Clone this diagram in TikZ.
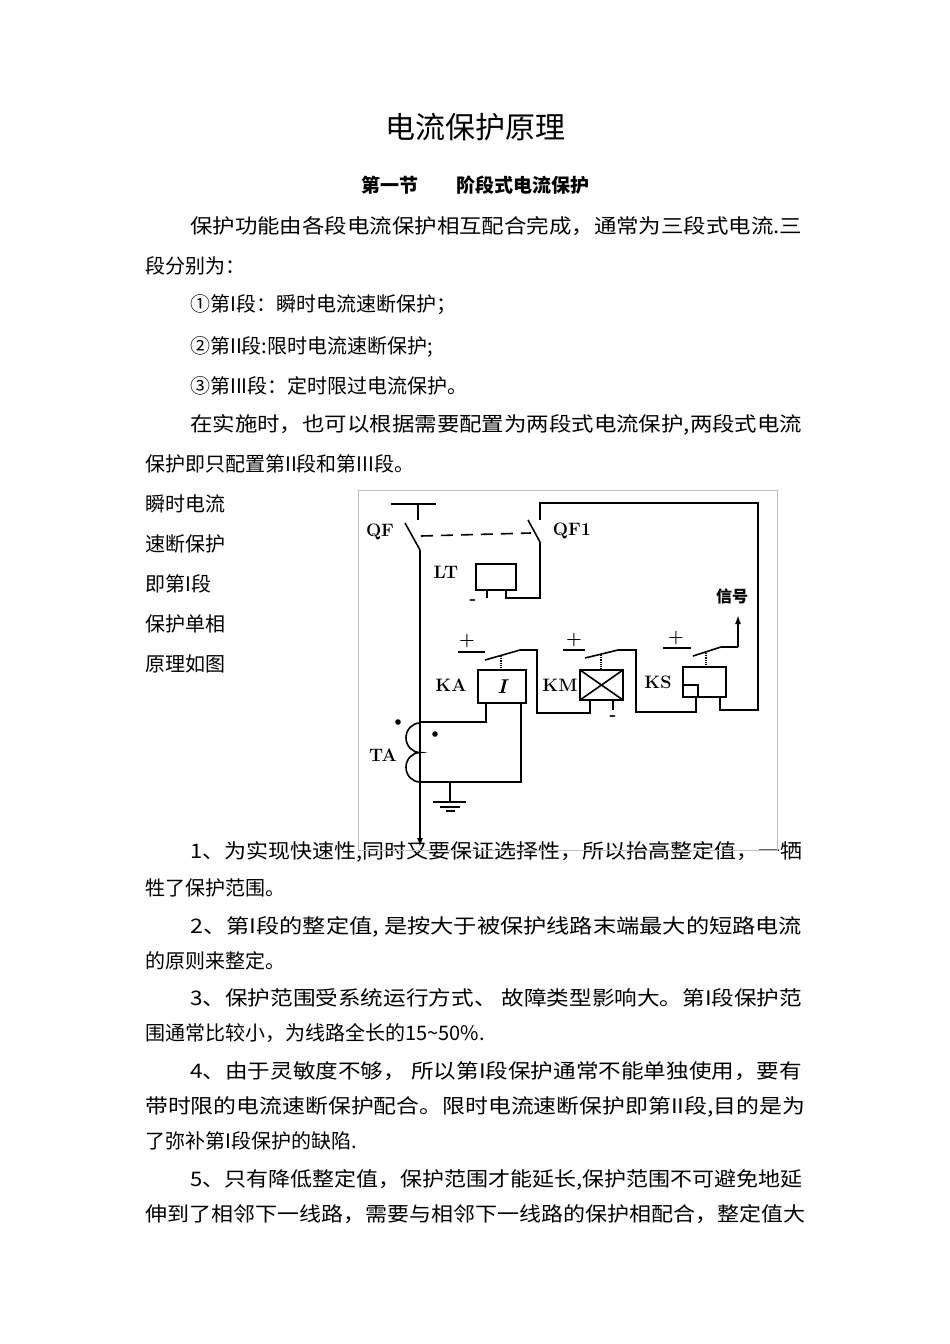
\documentclass[tikz,border=0pt]{standalone}
\usepackage{fontspec}
\setmainfont{Noto Sans CJK SC}
\newfontfamily\lmr{Latin Modern Roman}
\usetikzlibrary{arrows.meta}
\tikzset{
 txt/.style={anchor=base west,inner sep=0pt,font=\fontsize{20}{24}\selectfont},
 wire/.style={line width=1.6pt},
 lbl/.style={inner sep=0pt,font=\lmr\bfseries\fontsize{18}{20}\selectfont},
 rbox/.style={draw,line width=1.8pt}
}
\newcommand{\jl}[2]{\resizebox{#1pt}{\height}{#2}}
\begin{document}
\begin{tikzpicture}[x=1pt,y=-1pt]
\useasboundingbox (0,0) rectangle (950,1344);
\fill[white] (0,0) rectangle (950,1344);
% texts
\node[inner sep=0pt,font=\fontsize{30}{34}\selectfont] (title) at (475,127) {电流保护原理};
\node[inner sep=0pt,font=\bfseries\fontsize{19}{22}\selectfont] (sec) at (475,185) {第一节\hspace{2em}阶段式电流保护};
\node[txt] (t1) at (190,233) {\jl{612}{保护功能由各段电流保护相互配合完成，通常为三段式电流.三}};
\node[txt] (t2) at (145,273) {段分别为：};
\node[txt] (t3) at (190,311) {①第I段：瞬时电流速断保护；};
\node[txt] (t4) at (190,353) {②第II段:限时电流速断保护;};
\node[txt] (t5) at (190,393) {③第III段：定时限过电流保护。};
\node[txt] (t6) at (190,431) {\jl{612}{在实施时，也可以根据需要配置为两段式电流保护,两段式电流}};
\node[txt] (t7) at (145,471) {保护即只配置第II段和第III段。};
\node[txt] (l1) at (145,511) {瞬时电流};
\node[txt] (l2) at (145,551) {速断保护};
\node[txt] (l3) at (145,591) {即第I段};
\node[txt] (l4) at (145,631) {保护单相};
\node[txt] (l5) at (145,671) {原理如图};
\node[txt] (p1) at (190,858) {\jl{612}{1、为实现快速性,同时又要保证选择性，所以抬高整定值，一牺}};
\node[txt] (p1b) at (145,895) {牲了保护范围。};
\node[txt] (p2) at (190,933) {\jl{612}{2、第I段的整定值, 是按大于被保护线路末端最大的短路电流}};
\node[txt] (p2b) at (145,968) {的原则来整定。};
\node[txt] (p3) at (190,1005) {\jl{612}{3、保护范围受系统运行方式、 故障类型影响大。第I段保护范}};
\node[txt] (p3b) at (145,1040) {围通常比较小，为线路全长的15\textasciitilde50\%.};
\node[txt] (p4) at (190,1078) {\jl{612}{4、由于灵敏度不够， 所以第I段保护通常不能单独使用，要有}};
\node[txt] (p4b) at (145,1113) {\jl{660}{带时限的电流速断保护配合。限时电流速断保护即第II段,目的是为}};
\node[txt] (p4c) at (145,1148) {了弥补第I段保护的缺陷.};
\node[txt] (p5) at (190,1186) {\jl{612}{5、只有降低整定值，保护范围才能延长,保护范围不可避免地延}};
\node[txt] (p5b) at (145,1221) {\jl{660}{伸到了相邻下一线路，需要与相邻下一线路的保护相配合，整定值大}};
% diagram frame
\draw[gray!50,line width=0.8pt] (358,490) rectangle (777,850);
% bus & QF
\draw[wire] (391,504) -- (436,504) (418,504) -- (418,520);
\draw[wire] (405,523) -- (420,550);
\draw[wire,-{Latex[length=9pt,width=6pt]}] (420,550) -- (420,847);
\draw[wire,dashed,dash pattern=on 12pt off 8pt] (421,536) -- (531,533);
\node[lbl] (QF) at (380,532) {QF};
\node[lbl] (QF1) at (572,531) {QF1};
% QF1
\draw[wire] (528,520) -- (540,542);
\draw[wire] (540,520) -- (540,503) -- (758,503) -- (758,710) -- (720,710) -- (720,697);
\draw[wire] (540,542) -- (540,598) -- (506,598) -- (506,590);
% LT
\draw[rbox] (476,564) rectangle (516,590);
\draw[wire] (487,590) -- (487,598);
\node[lbl] (LT) at (446,572) {LT};
\node[lbl] (LTm) at (473,602) {-};
% KA
\node[lbl] (KAp) at (467,641) {+};
\draw[wire] (458,652) -- (485,652);
\draw[wire] (485,660) -- (520,650) -- (537,650) -- (537,713) -- (590,713) -- (590,700);
\draw[densely dotted,line width=1.2pt] (501,656) -- (501,670);
\draw[rbox] (478,670) rectangle (526,703);
\node[font=\lmr\bfseries\itshape\fontsize{20}{22}\selectfont,inner sep=0pt] (KAI) at (502,687) {I};
\node[lbl] (KA) at (451,685) {KA};
\draw[wire] (486,703) -- (486,722) -- (420,722);
\draw[wire] (521,703) -- (521,782) -- (420,782);
% TA coils
\draw[wire] (420,723) arc[start angle=270,end angle=90,x radius=14,y radius=14.75]
  arc[start angle=270,end angle=90,x radius=14,y radius=14.75];
\fill (398,722) circle (2.8pt) (435,734) circle (2.8pt);
\node[lbl] (TA) at (383,755) {TA};
% ground
\draw[wire] (450,782) -- (450,802);
\draw[wire] (433,802) -- (466,802) (440,807) -- (460,807) (446,811) -- (455,811);
% KM
\node[lbl] (KMp) at (574,640) {+};
\draw[wire] (563,650) -- (585,650);
\draw[wire] (585,658) -- (618,650) -- (636,650) -- (636,712) -- (696,712) -- (696,697);
\draw[densely dotted,line width=1.2pt] (601,655) -- (601,670);
\draw[line width=2.6pt] (580,670) rectangle (623,700);
\draw[wire] (580,670) -- (623,700) (580,700) -- (623,670);
\draw[wire] (613,700) -- (613,710);
\node[lbl] (KMm) at (613,718) {-};
\node[lbl] (KM) at (560,685) {KM};
% KS
\node[lbl] (KSp) at (676,638) {+};
\draw[wire] (663,648) -- (691,648);
\draw[wire] (693,656) -- (721,647) -- (738,647);
\draw[wire,-{Latex[length=9pt,width=6pt]}] (738,647) -- (738,615);
\draw[densely dotted,line width=1.2pt] (706,653) -- (706,667);
\draw[rbox] (683,667) rectangle (726,697);
\draw[wire] (683,685) -- (698,685) -- (698,697);
\node[lbl] (KS) at (658,682) {KS};
\node[inner sep=0pt,font=\bfseries\fontsize{16}{18}\selectfont] (sig) at (732,596) {信号};
\end{tikzpicture}
\end{document}
